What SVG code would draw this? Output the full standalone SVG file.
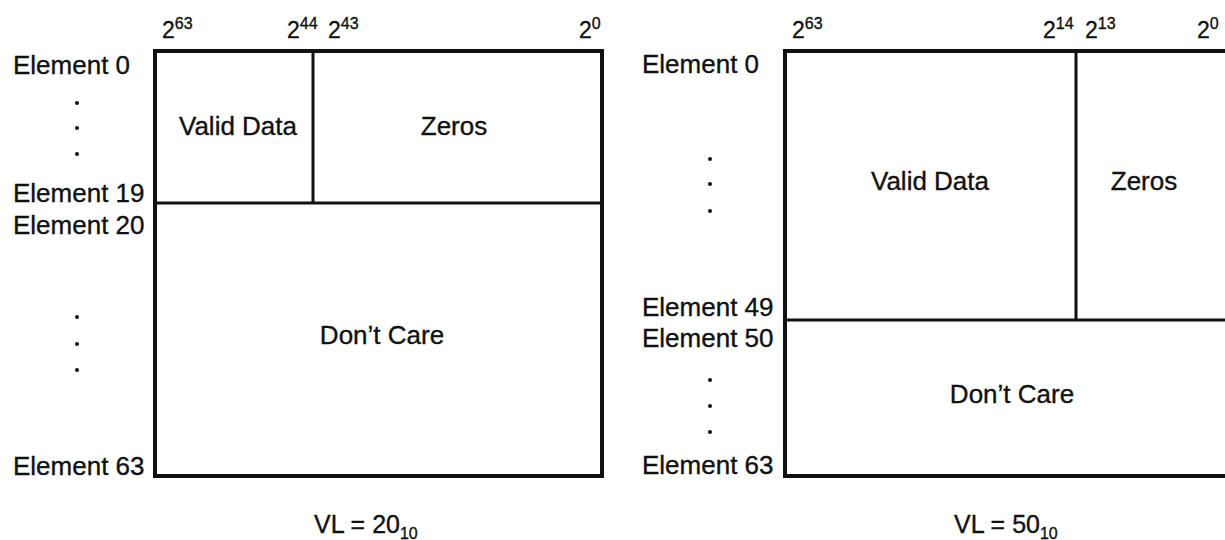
<svg xmlns="http://www.w3.org/2000/svg" width="1225" height="540" viewBox="0 0 1225 540">
<style>
text{font-family:"Liberation Sans",Arial,Helvetica,sans-serif;fill:#111;stroke:#111;stroke-width:0.35}
.lbl{font-size:26px}
.bit{font-size:23px}
.sup{font-size:16px}
.cell{font-size:26px;text-anchor:middle}
.vl{font-size:25px}
.sub{font-size:16px}
.outer{fill:none;stroke:#111;stroke-width:4}
.div{fill:none;stroke:#111;stroke-width:3}
.dot{fill:#111}
</style>
<rect width="1225" height="540" fill="#fff"/>

<!-- Left diagram: VL = 20 -->
<g id="left-bits">
<text class="bit" x="162" y="38">2<tspan class="sup" dy="-9">63</tspan></text>
<text class="bit" x="287" y="38">2<tspan class="sup" dy="-9">44</tspan></text>
<text class="bit" x="328" y="38">2<tspan class="sup" dy="-9">43</tspan></text>
<text class="bit" x="579" y="38">2<tspan class="sup" dy="-9">0</tspan></text>
</g>
<g id="left-elements">
<text class="lbl" x="13" y="74">Element 0</text>
<circle class="dot" cx="77" cy="103" r="2"/>
<circle class="dot" cx="77" cy="128" r="2"/>
<circle class="dot" cx="77" cy="154" r="2"/>
<text class="lbl" x="13" y="202">Element 19</text>
<text class="lbl" x="13" y="234">Element 20</text>
<circle class="dot" cx="77" cy="317" r="2"/>
<circle class="dot" cx="77" cy="344" r="2"/>
<circle class="dot" cx="77" cy="370" r="2"/>
<text class="lbl" x="13" y="475">Element 63</text>
</g>
<g id="left-register">
<rect class="outer" x="155" y="51" width="447" height="425"/>
<line class="div" x1="313" y1="51" x2="313" y2="203"/>
<line class="div" x1="155" y1="203" x2="602" y2="203"/>
</g>
<g id="left-valid"><text class="cell" x="238" y="135">Valid Data</text></g>
<g id="left-zeros"><text class="cell" x="454" y="135">Zeros</text></g>
<g id="left-dontcare"><text class="cell" x="382" y="344">Don’t Care</text></g>
<g id="left-vl"><text class="vl" x="314" y="533">VL = 20<tspan class="sub" dy="6">10</tspan></text></g>

<!-- Right diagram: VL = 50 -->
<g id="right-bits">
<text class="bit" x="792" y="38">2<tspan class="sup" dy="-9">63</tspan></text>
<text class="bit" x="1043" y="38">2<tspan class="sup" dy="-9">14</tspan></text>
<text class="bit" x="1085" y="38">2<tspan class="sup" dy="-9">13</tspan></text>
<text class="bit" x="1197" y="38">2<tspan class="sup" dy="-9">0</tspan></text>
</g>
<g id="right-elements">
<text class="lbl" x="642" y="73">Element 0</text>
<circle class="dot" cx="710" cy="159" r="2"/>
<circle class="dot" cx="710" cy="184" r="2"/>
<circle class="dot" cx="710" cy="211" r="2"/>
<text class="lbl" x="642" y="316">Element 49</text>
<text class="lbl" x="642" y="347">Element 50</text>
<circle class="dot" cx="710" cy="380" r="2"/>
<circle class="dot" cx="710" cy="406" r="2"/>
<circle class="dot" cx="710" cy="432" r="2"/>
<text class="lbl" x="642" y="474">Element 63</text>
</g>
<g id="right-register">
<rect class="outer" x="785" y="51" width="445" height="425"/>
<line class="div" x1="1076" y1="51" x2="1076" y2="320"/>
<line class="div" x1="785" y1="320" x2="1230" y2="320"/>
</g>
<g id="right-valid"><text class="cell" x="930" y="190">Valid Data</text></g>
<g id="right-zeros"><text class="cell" x="1144" y="190">Zeros</text></g>
<g id="right-dontcare"><text class="cell" x="1012" y="403">Don’t Care</text></g>
<g id="right-vl"><text class="vl" x="954" y="533">VL = 50<tspan class="sub" dy="6">10</tspan></text></g>
</svg>
